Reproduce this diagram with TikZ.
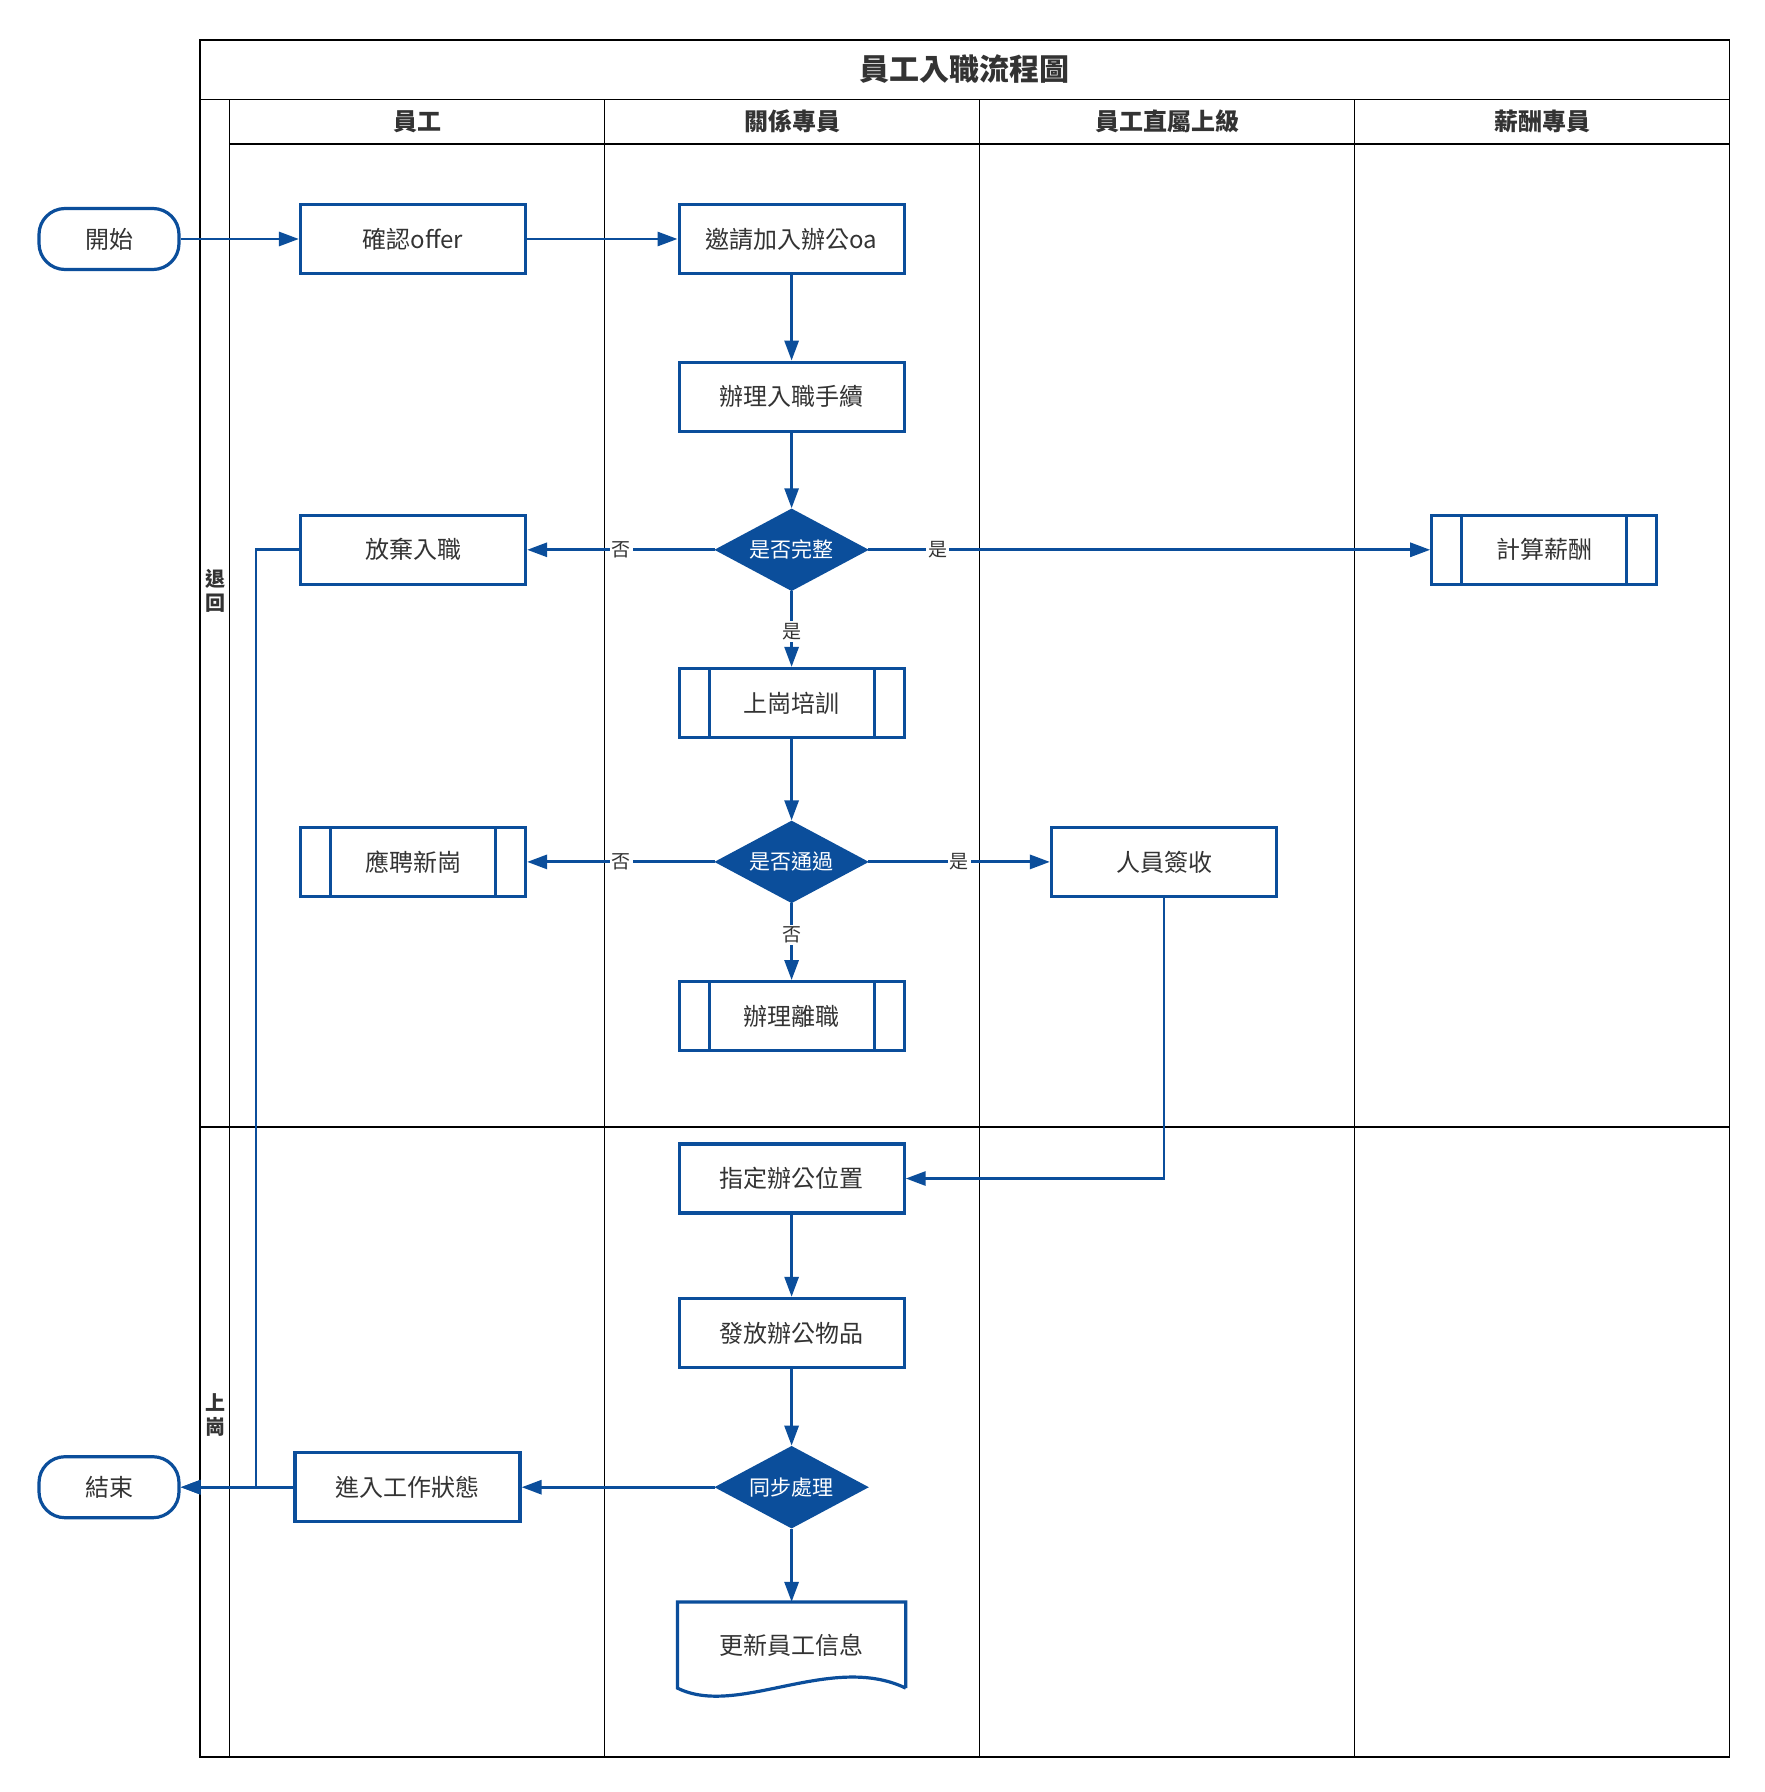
\documentclass[tikz,border=0pt]{standalone}
\usepackage{fontspec}
\setmainfont{Noto Sans CJK TC}
\usetikzlibrary{arrows.meta,shapes.geometric,calc}
\definecolor{pblue}{RGB}{11,78,155}
\definecolor{ptext}{RGB}{51,51,51}
\begin{document}
\begin{tikzpicture}[x=0.5pt,y=-0.5pt,
  lane/.style={draw=black,line width=0.65pt},
  procbox/.style={draw=pblue,line width=1.6pt,fill=white,minimum width=112.5pt,minimum height=34.5pt,inner sep=0pt,text=ptext,font=\fontsize{12}{14}\selectfont},
  subproc/.style={procbox,path picture={
      \draw[pblue,line width=1.6pt] ([xshift=15pt]path picture bounding box.north west) -- ([xshift=15pt]path picture bounding box.south west);
      \draw[pblue,line width=1.6pt] ([xshift=-15pt]path picture bounding box.north east) -- ([xshift=-15pt]path picture bounding box.south east);}},
  term/.style={procbox,minimum width=70pt,minimum height=30.5pt,rounded corners=13pt},
  decision/.style={diamond,aspect=2,fill=pblue,draw=pblue,line width=1pt,minimum width=75.5pt,minimum height=40.5pt,inner sep=0pt,text=white,font=\fontsize{10.5}{12}\selectfont},
  flow/.style={draw=pblue,line width=1.45pt,-{Triangle[length=10pt,width=7pt]}},
  elabel/.style={fill=white,inner sep=1pt,text=ptext,font=\fontsize{9.5}{11}\selectfont},
  head/.style={text=ptext,font=\fontsize{12}{14}\selectfont\bfseries},
  phase/.style={text=ptext,align=center,font=\fontsize{10}{12}\selectfont\bfseries},
]
\useasboundingbox (0,0) rectangle (1765,1792);
\fill[white] (0,0) rectangle (1765,1792);

% pool frame
\draw[lane] (200,40) rectangle (1729.5,1757);
\draw[lane] (200,99.5) -- (1729.5,99.5);
\draw[lane] (229.8,144) -- (1729.5,144);
\draw[lane] (229.8,99.5) -- (229.8,1757);
\foreach \xx in {604.7,979.6,1354.6} \draw[lane] (\xx,99.5) -- (\xx,1757);
\draw[lane] (200,1127) -- (1729.5,1127);

\node[text=ptext,font=\fontsize{15}{18}\selectfont\bfseries] (title) at (964.75,69.5) {員工入職流程圖};
\node[head] (h1) at (417,121.5) {員工};
\node[head] (h2) at (792,121.5) {關係專員};
\node[head] (h3) at (1167,121.5) {員工直屬上級};
\node[head] (h4) at (1542,121.5) {薪酬專員};
\node[phase] (p1) at (215,591) {退\\回};
\node[phase] (p2) at (215,1415) {上\\崗};

% nodes
\node[term] (start) at (109,239) {開始};
\node[procbox] (confirm) at (413,239) {確認offer};
\node[procbox] (invite) at (791.6,239) {邀請加入辦公oa};
\node[procbox] (proc) at (791.6,396.7) {辦理入職手續};
\node[decision] (chk1) at (791.6,549.8) {是否完整};
\node[procbox] (giveup) at (413,549.8) {放棄入職};
\node[subproc] (salary) at (1544.3,549.8) {計算薪酬};
\node[subproc] (train) at (791.6,703) {上崗培訓};
\node[decision] (chk2) at (791.6,861.9) {是否通過};
\node[subproc] (newpos) at (413,861.9) {應聘新崗};
\node[procbox] (sign) at (1164,861.9) {人員簽收};
\node[subproc] (leave) at (791.6,1016.2) {辦理離職};
\node[procbox] (seat) at (791.6,1178.5) {指定辦公位置};
\node[procbox] (issue) at (791.6,1332.9) {發放辦公物品};
\node[decision] (sync) at (791.6,1487.2) {同步處理};
\node[procbox] (work) at (407.5,1487.2) {進入工作狀態};
\node[term] (end) at (109,1487.2) {結束};
\node[procbox,draw=none,fill=none,minimum height=41.5pt] (doc) at (791.6,1645) {更新員工信息};
\draw[pblue,line width=1.6pt] (doc.south east) -- (doc.north east) -- (doc.north west) -- (doc.south west)
  .. controls ($(doc.south west)+(60,30)$) and ($(doc.south east)+(-75,-36)$) .. (doc.south east);

% connectors
\draw[flow] (start) -- (confirm);
\draw[flow] (confirm) -- (invite);
\draw[flow] (invite) -- (proc);
\draw[flow] (proc) -- (chk1);
\draw[flow] (chk1) -- node[elabel,pos=0.5] {否} (giveup);
\draw[flow] (chk1) -- node[elabel,pos=0.124] {是} (salary);
\draw[flow] (chk1) -- node[elabel,pos=0.53] {是} (train);
\draw[flow] (train) -- (chk2);
\draw[flow] (chk2) -- node[elabel,pos=0.5] {否} (newpos);
\draw[flow] (chk2) -- node[elabel,pos=0.5] {是} (sign);
\draw[flow] (chk2) -- node[elabel,pos=0.41] {否} (leave);
\draw[flow] (sign) |- (seat);
\draw[flow] (seat) -- (issue);
\draw[flow] (issue) -- (sync);
\draw[flow] (sync) -- (doc.north);
\draw[flow] (sync) -- (work);
\draw[flow] (work) -- (end);
\coordinate (retx) at (256,0);
\draw[flow] (giveup.west) -- (giveup.west -| retx) |- (end.east);
\end{tikzpicture}
\end{document}
